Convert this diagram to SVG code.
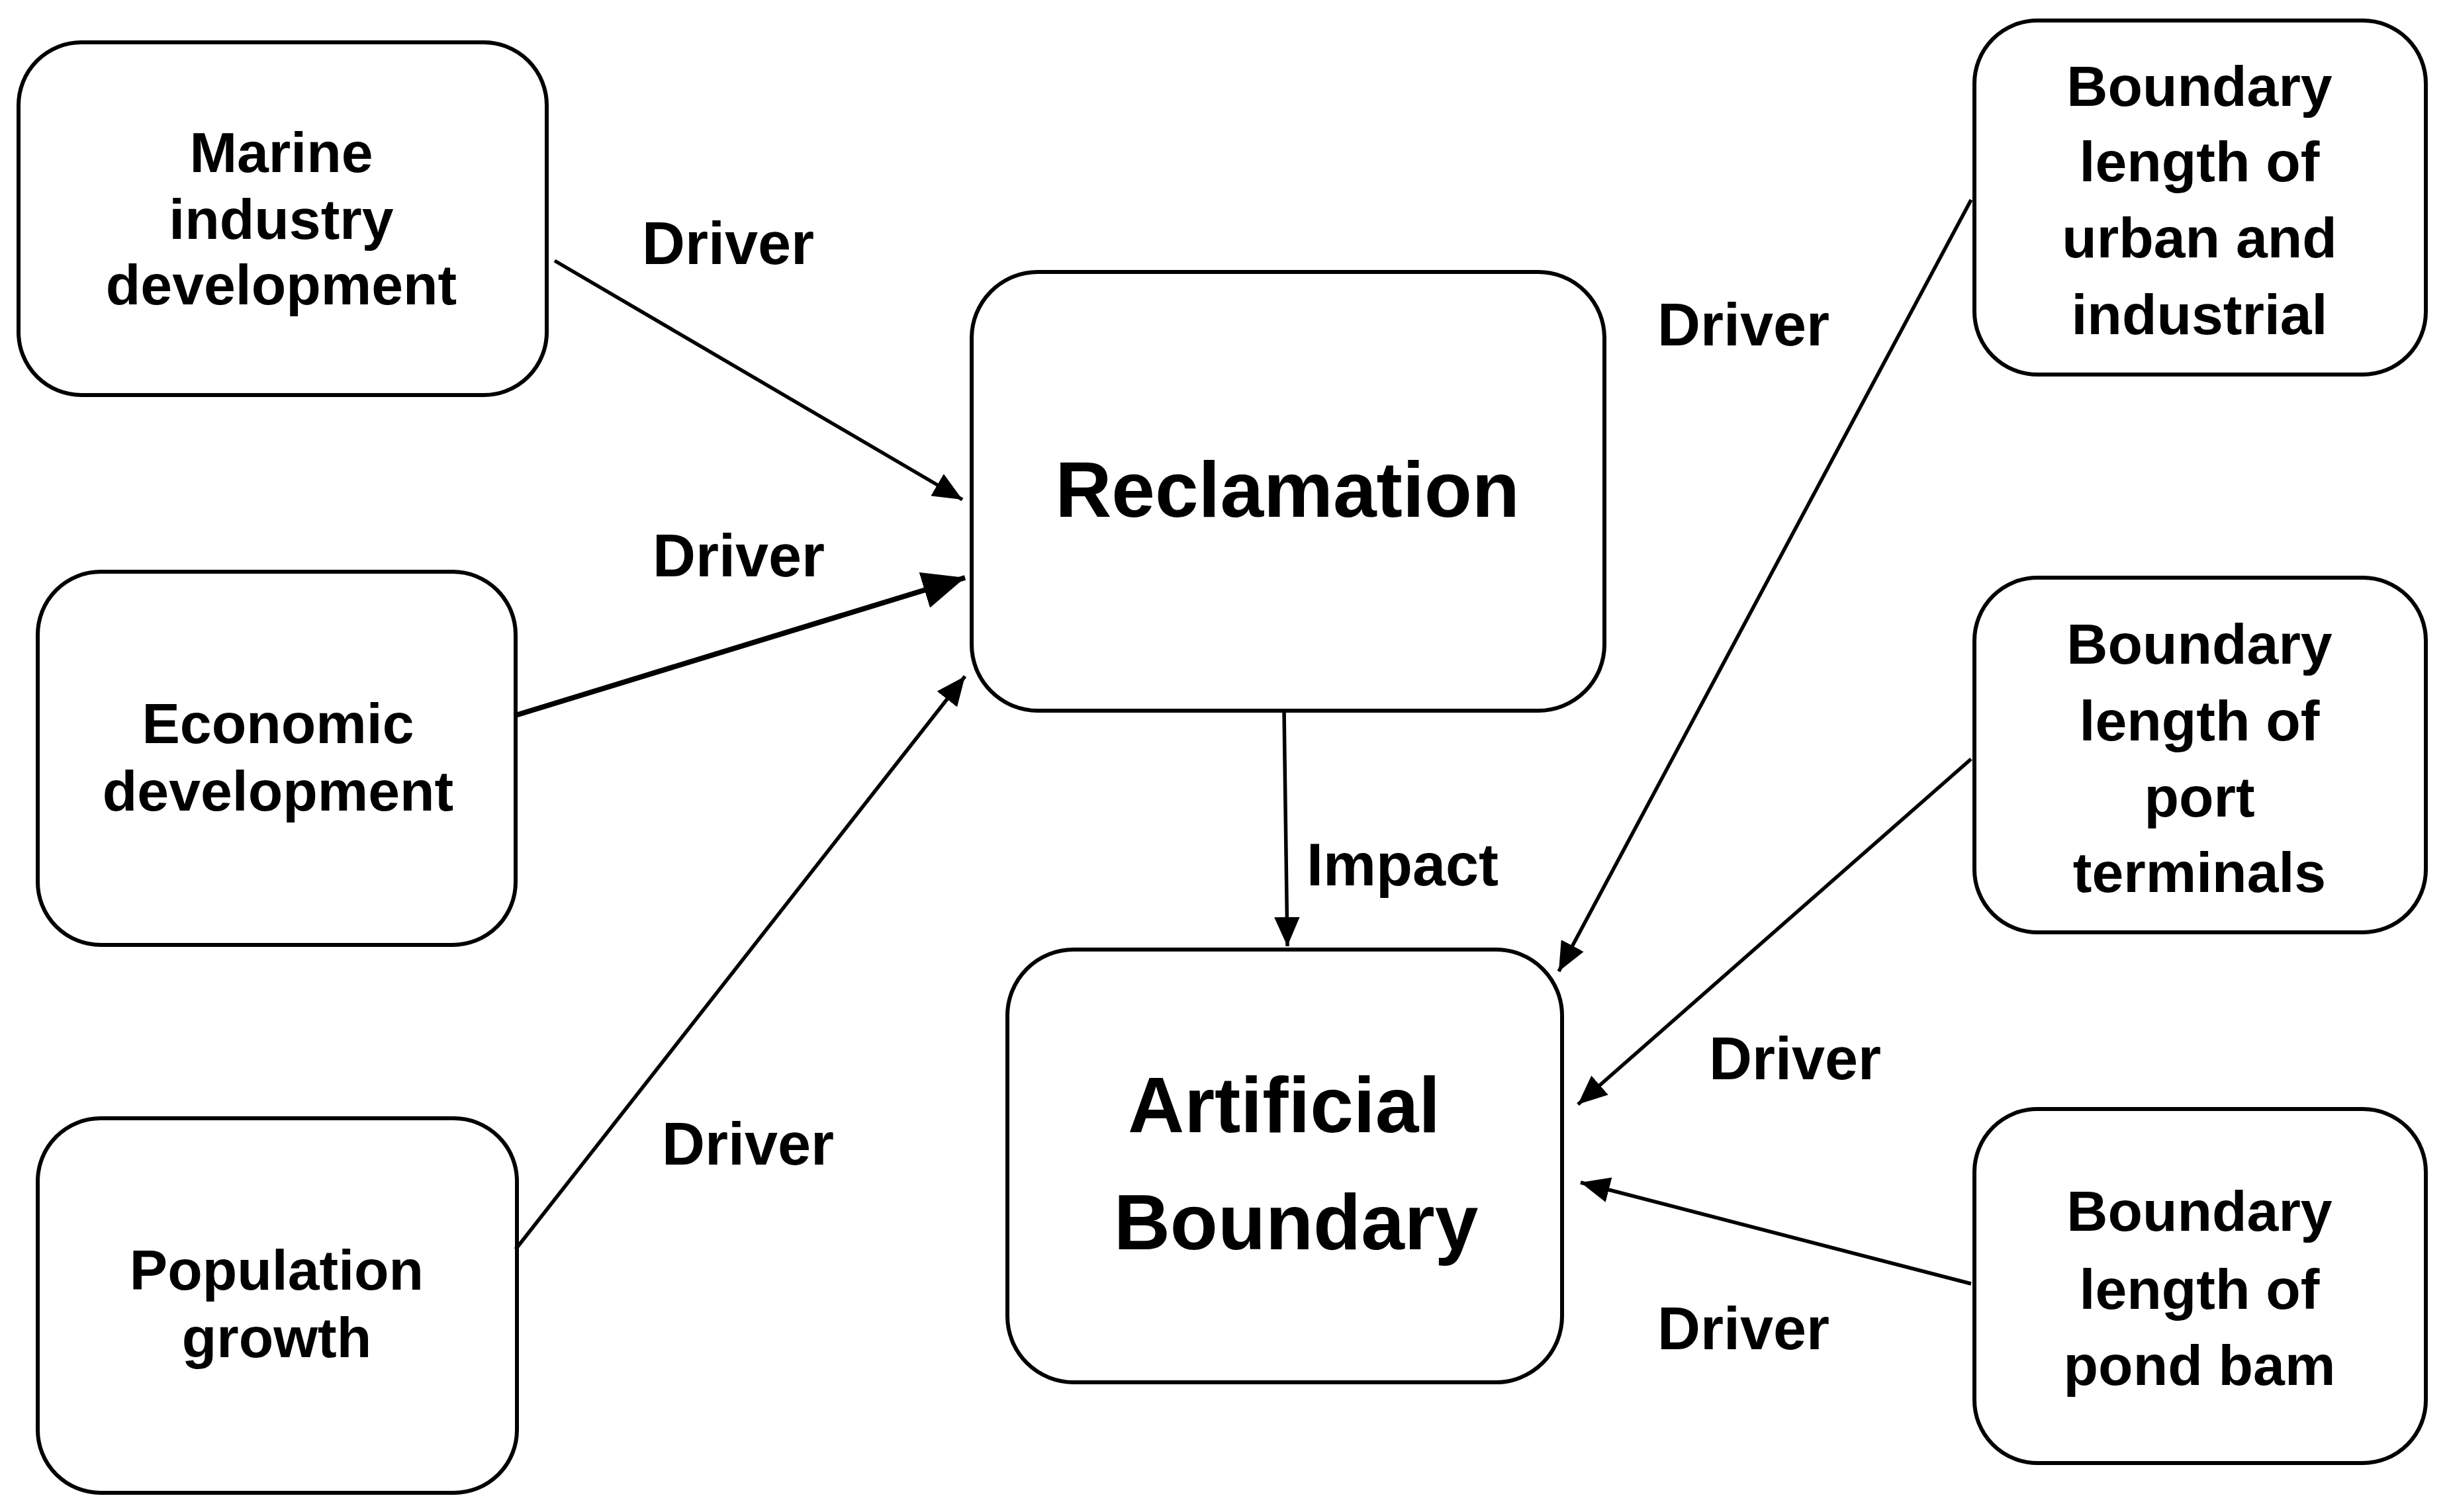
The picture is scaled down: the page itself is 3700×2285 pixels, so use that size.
<svg xmlns="http://www.w3.org/2000/svg" width="3700" height="2285" viewBox="0 0 3700 2285">
<style>
.box{fill:#fff;stroke:#000;stroke-width:6}
text{font-family:"Liberation Sans",Arial,sans-serif;font-weight:bold;fill:#000;text-anchor:middle}
.t{font-size:86px}
.big{font-size:118px}
.lbl{font-size:90px}
.c{stroke:#000;stroke-width:5.5;fill:none;marker-end:url(#ah)}
</style>
<defs>
<marker id="ah" viewBox="0 0 10 10" refX="10" refY="5" markerWidth="8" markerHeight="7" markerUnits="strokeWidth" orient="auto" preserveAspectRatio="none">
<path d="M0,0 L10,5 L0,10 z" fill="#000"/>
</marker>
</defs>
<rect width="3700" height="2285" fill="#fff"/>
<g id="marine"><rect class="box" x="28" y="64" width="798" height="533" rx="95"/>
<text class="t" x="425" y="260">Marine</text><text class="t" x="425" y="361">industry</text><text class="t" x="425" y="460">development</text></g>
<g id="economic"><rect class="box" x="57" y="864" width="722" height="564" rx="95"/>
<text class="t" x="420" y="1123">Economic</text><text class="t" x="420" y="1225">development</text></g>
<g id="population"><rect class="box" x="57" y="1690" width="724" height="566" rx="95"/>
<text class="t" x="418" y="1949">Population</text><text class="t" x="418" y="2051">growth</text></g>
<g id="reclamation"><rect class="box" x="1468" y="411" width="956" height="663" rx="100"/>
<text class="big" x="1945" y="781">Reclamation</text></g>
<g id="artificial"><rect class="box" x="1522" y="1435" width="838" height="654" rx="100"/>
<text class="big" x="1940" y="1711">Artificial</text><text class="big" x="1958" y="1888">Boundary</text></g>
<g id="urban"><rect class="box" x="2983" y="31" width="682" height="535" rx="95"/>
<text class="t" x="3323" y="160">Boundary</text><text class="t" x="3323" y="274">length of</text><text class="t" x="3323" y="389">urban and</text><text class="t" x="3323" y="505">industrial</text></g>
<g id="port"><rect class="box" x="2983" y="873" width="682" height="536" rx="95"/>
<text class="t" x="3323" y="1003">Boundary</text><text class="t" x="3323" y="1119">length of</text><text class="t" x="3323" y="1234">port</text><text class="t" x="3323" y="1348">terminals</text></g>
<g id="pond"><rect class="box" x="2983" y="1676" width="682" height="535" rx="95"/>
<text class="t" x="3323" y="1860">Boundary</text><text class="t" x="3323" y="1978">length of</text><text class="t" x="3323" y="2093">pond bam</text></g>
<g id="connectors">
<line class="c" x1="838" y1="394" x2="1454" y2="755"/>
<line class="c" x1="779" y1="1081" x2="1458" y2="873" style="stroke-width:8"/>
<line class="c" x1="779" y1="1888" x2="1458" y2="1022"/>
<line class="c" x1="1940" y1="1074" x2="1945" y2="1430"/>
<line class="c" x1="2978" y1="302" x2="2355" y2="1468"/>
<line class="c" x1="2978" y1="1147" x2="2384" y2="1669"/>
<line class="c" x1="2978" y1="1940" x2="2388" y2="1787"/>
<text class="lbl" x="1100" y="399">Driver</text>
<text class="lbl" x="1116" y="871">Driver</text>
<text class="lbl" x="1130" y="1760">Driver</text>
<text class="lbl" x="2634" y="522">Driver</text>
<text class="lbl" x="2712" y="1631">Driver</text>
<text class="lbl" x="2634" y="2039">Driver</text>
<text class="lbl" x="2119" y="1338">Impact</text>
</g>
</svg>
